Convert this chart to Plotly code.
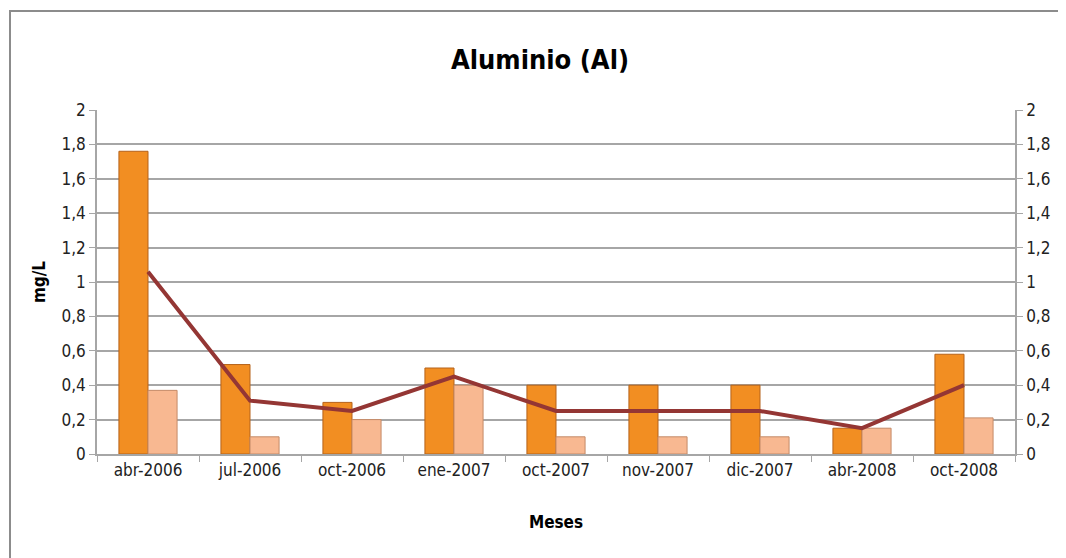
import plotly.graph_objects as go

# Data
meses = ["abr-2006", "jul-2006", "oct-2006", "ene-2007", "oct-2007",
         "nov-2007", "dic-2007", "abr-2008", "oct-2008"]
serie_a = [1.76, 0.52, 0.30, 0.50, 0.40, 0.40, 0.40, 0.15, 0.58]
serie_b = [0.37, 0.10, 0.20, 0.40, 0.10, 0.10, 0.10, 0.15, 0.21]
linea = [1.06, 0.31, 0.25, 0.45, 0.25, 0.25, 0.25, 0.15, 0.40]
y_ticks = [0, 0.2, 0.4, 0.6, 0.8, 1, 1.2, 1.4, 1.6, 1.8, 2]

FONT = "Liberation Sans Narrow, DejaVu Sans Condensed, Arial Narrow, sans-serif"
# page body has an 8px margin, so the figure is made 8px smaller and
# everything is laid out 8px up/left
OFF = 8
W, H = 1066 - OFF, 558 - OFF
ml, mr, mt, mb = 97 - OFF, W - (1015 - OFF), 110 - OFF, H - (454 - OFF)

fig = go.Figure()
fig.add_trace(go.Bar(
    x=meses, y=serie_a, name="Serie 1",
    marker=dict(color="#F28E22", line=dict(color="#B5621A", width=1)),
))
fig.add_trace(go.Bar(
    x=meses, y=serie_b, name="Serie 2",
    marker=dict(color="#F8B891", line=dict(color="#C48A68", width=1)),
))
fig.add_trace(go.Scatter(
    x=meses, y=linea, name="Serie 3", yaxis="y2", mode="lines",
    line=dict(color="#943634", width=4),
))

# outer chart border, in paper coords (screen pixels in, minus the offset)
pw, ph = W - ml - mr, H - mt - mb
def px_x(p):
    return (p - OFF - ml) / pw
def px_y(p):
    return (H - mb - (p - OFF)) / ph

fig.add_shape(type="rect", xref="paper", yref="paper",
              x0=px_x(10), x1=px_x(1070), y0=px_y(580), y1=px_y(11),
              line=dict(color="#8C8C8C", width=2), fillcolor="rgba(0,0,0,0)",
              layer="below")

axis_common = dict(
    range=[0, 2], tickvals=y_ticks, showgrid=True, gridcolor="#A6A6A6",
    gridwidth=1.5, ticks="outside", ticklen=6, tickcolor="#A6A6A6",
    showline=True, linecolor="#A6A6A6", linewidth=1.5,
    tickfont=dict(family=FONT, size=17, color="#222"), zeroline=False,
)

fig.update_layout(
    width=W, height=H,
    margin=dict(l=ml, r=mr, t=mt, b=mb),
    paper_bgcolor="white", plot_bgcolor="white",
    separators=", ",
    showlegend=False,
    barmode="group", bargap=0.43, bargroupgap=0,
    title=dict(text="<b>Aluminio (Al)</b>", x=(540 - OFF) / W, xanchor="center",
               y=1 - (60 - OFF) / H, yanchor="middle",
               font=dict(family=FONT, size=27, color="black")),
    xaxis=dict(
        tickson="boundaries", ticks="outside", ticklen=6, tickcolor="#A6A6A6",
        showline=True, linecolor="#A6A6A6", linewidth=1.5, showgrid=False,
        tickfont=dict(family=FONT, size=17, color="#222"),
        title=dict(text="<b>Meses</b>", standoff=37,
                   font=dict(family=FONT, size=17, color="black")),
    ),
    yaxis=dict(
        **axis_common,
        title=dict(text="<b>mg/L</b>", standoff=12,
                   font=dict(family=FONT, size=17, color="black")),
    ),
    yaxis2=dict(**axis_common, overlaying="y", side="right"),
)

fig.write_html("out.html")
